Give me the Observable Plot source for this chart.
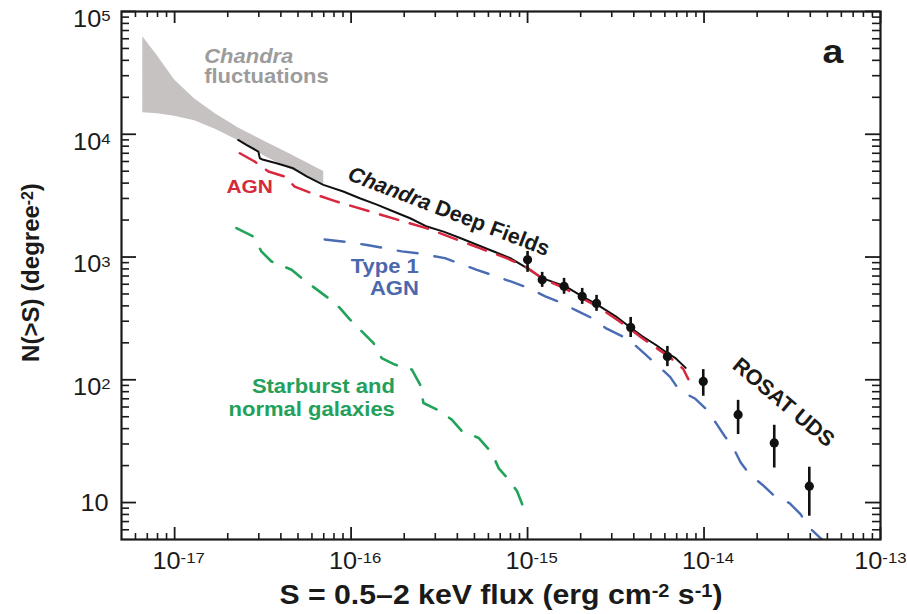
<!DOCTYPE html>
<html><head><meta charset="utf-8">
<script src="https://cdn.jsdelivr.net/npm/d3@7"></script>
<script src="https://cdn.jsdelivr.net/npm/@observablehq/plot@0.6"></script>
<style>
body{margin:0;background:#fff}
svg{font-family:"Liberation Sans",Arial,Helvetica,sans-serif}
</style>
</head><body><div id="chart"></div>
<script>
// ---------- data ----------
// Chandra fluctuations band
const bandFlux  = [6.6e-18, 8e-18, 1e-17, 1.3e-17, 1.7e-17, 2.3e-17, 3.2e-17, 4.5e-17, 7e-17];
const bandUpper = [62400, 43400, 27700, 19400, 14700, 11250, 8820, 6890, 4980];
const bandLower = [15000, 14700, 14000, 12900, 11000, 8850, 6670, 5210, 3950];

// Chandra Deep Fields (solid black)
const cdfFlux = [2.29e-17, 2.55e-17, 2.98e-17, 3.04e-17, 3.18e-17, 3.78e-17, 4.70e-17, 5.60e-17, 6.97e-17, 9.03e-17,
  1.12e-16, 1.40e-16, 1.74e-16, 2.16e-16, 2.69e-16, 3.34e-16, 4.15e-16, 5.16e-16, 6.43e-16, 7.98e-16,
  9.93e-16, 1.21e-15, 1.64e-15, 2.04e-15, 2.48e-15, 3.16e-15, 3.76e-15, 4.47e-15, 5.32e-15, 6.19e-15, 6.90e-15, 7.87e-15];
const cdfN = [8990, 8200, 7230, 6380, 6190, 5810, 5280, 4530, 3870, 3420,
  3010, 2670, 2350, 2070, 1770, 1610, 1430, 1260, 1110, 980,
  813, 673, 577, 478, 409, 329, 272, 226, 193, 165, 150, 125];

// AGN model (red dashed)
const agnFlux = [2.34e-17, 2.84e-17, 3.40e-17, 4.20e-17, 4.79e-17, 5.97e-17, 8.28e-17, 1.28e-16, 1.98e-16, 2.69e-16,
  3.81e-16, 5.40e-16, 7.66e-16, 9.93e-16, 1.21e-15, 1.63e-15, 2.04e-15, 2.48e-15, 3.14e-15, 3.77e-15,
  4.47e-15, 5.30e-15, 6.19e-15, 7.06e-15, 7.64e-15, 8.15e-15];
const agnN = [7000, 6000, 4970, 4530, 3750, 3310, 2830, 2350, 1950, 1710,
  1420, 1175, 975, 822, 670, 555, 460, 396, 316, 262,
  218, 184, 158, 136, 122, 101];

// Type 1 AGN model (blue dashed)
const type1Flux = [7.08e-17, 9.44e-17, 1.23e-16, 1.55e-16, 1.94e-16, 2.42e-16, 3.40e-16, 4.08e-16, 5.16e-16, 6.28e-16,
  8.17e-16, 1.007e-15, 1.26e-15, 1.51e-15, 1.91e-15, 2.32e-15, 2.79e-15, 3.44e-15, 4.07e-15, 4.65e-15,
  5.65e-15, 6.44e-15, 7.24e-15, 8.93e-15, 1.045e-14, 1.17e-14, 1.31e-14, 1.47e-14, 1.61e-14, 1.81e-14,
  2.15e-14, 2.51e-14, 3.05e-14, 3.52e-14, 3.92e-14, 4.70e-14];
const type1N = [1390, 1327, 1254, 1181, 1111, 1070, 980, 891, 785, 715,
  627, 561, 478, 431, 364, 318, 262, 226, 191, 161,
  125, 105, 82.2, 70, 56.5, 44.3, 34.7, 27.7, 21.3, 17.0,
  13.9, 11.3, 9.89, 8.05, 6.31, 4.94];

// Starburst and normal galaxies model (green dashed)
const galFlux = [2.24e-17, 2.79e-17, 3.10e-17, 3.54e-17, 4.60e-17, 5.24e-17, 6.24e-17, 7.43e-17, 8.65e-17, 9.86e-17,
  1.15e-16, 1.34e-16, 1.49e-16, 1.77e-16, 2.21e-16, 2.46e-16, 2.57e-16, 3.06e-16, 3.72e-16, 4.25e-16,
  5.28e-16, 6.28e-16, 6.85e-16, 7.81e-16, 8.71e-16, 9.5e-16];
const galN = [1718, 1471, 1111, 920, 788, 673, 558, 463, 384, 309,
  248, 199, 150, 133, 121, 91.4, 64.7, 57.2, 47.4, 38.1,
  33.6, 25.4, 19.1, 15.4, 12.4, 9.06];

// data points with error bars (Chandra / ROSAT UDS)
const ptFlux = [1.0e-15, 1.21e-15, 1.61e-15, 2.04e-15, 2.46e-15, 3.84e-15, 6.2e-15, 9.9e-15, 1.56e-14, 2.5e-14, 3.95e-14];
const ptN    = [950, 653, 577, 478, 419, 267, 155, 97, 52, 30.6, 13.6];
const ptLo   = [750, 566, 497, 411, 361, 221, 128, 73.4, 35.8, 19.1, 7.74];
const ptHi   = [1110, 750, 670, 555, 487, 322, 187, 121, 68, 42.6, 19.4];

// axes
const xTickValues = [1e-17, 1e-16, 1e-15, 1e-14, 1e-13];
const xTickLabels = ["10^{-17}", "10^{-16}", "10^{-15}", "10^{-14}", "10^{-13}"];
const yTickValues = [1e5, 1e4, 1e3, 1e2, 10];
const yTickLabels = ["10^{5}", "10^{4}", "10^{3}", "10^{2}", "10"];
const xDecades = [1e-18, 1e-17, 1e-16, 1e-15, 1e-14];
const yDecades = [1, 10, 100, 1000, 10000];
const mantissas = [2, 3, 4, 5, 6, 7, 8, 9];
const xTitle = "S = 0.5–2 keV flux (erg cm^{-2} s^{-1})";
const yTitle = "N(>S) (degree^{-2})";

// annotations
const labelText = ["<i>Chandra</i>", "fluctuations", "AGN", "<i>Chandra</i> Deep Fields", "Type 1", "AGN",
  "Starburst and", "normal galaxies", "ROSAT UDS", "a"];
const labelFlux = [1.47e-17, 1.47e-17, 2.66e-17, 3.58e-16, 2.42e-16, 2.42e-16, 1.77e-16, 1.77e-16, 2.82e-14, 5.37e-14];
const labelN    = [42900, 29400, 3750, 2350, 836, 553, 88.5, 57.5, 65.3, 47100];

// ---------- build ----------
const W = 907, H = 614, mT = 11, mB = 75, mL = 121, mR = 27;
const frameH = H - mT - mB, frameW = W - mL - mR;
const xDom = [5e-18, 1e-13], yDom = [5, 1e5];
const series = (fx, ny) => fx.map((f, i) => ({f, n: ny[i]}));
const band = bandFlux.map((f, i) => ({f, lo: bandLower[i], hi: bandUpper[i]}));
const pts = ptFlux.map((f, i) => ({f, n: ptN[i], lo: ptLo[i], hi: ptHi[i]}));
const minorX = xDecades.flatMap(d => mantissas.map(m => m * d)).filter(v => v > xDom[0] * 1.01 && v < xDom[1] * 0.99);
const minorY = yDecades.flatMap(d => mantissas.map(m => m * d)).filter(v => v > yDom[0] * 1.01 && v < yDom[1] * 0.99);
const INK = "#1a1a1a";
const nX = xTickValues.length;

function label(i, opts) {
  return Plot.text([i], {x: j => labelFlux[j], y: j => labelN[j], text: j => labelText[j],
    fontWeight: "bold", lineAnchor: "middle", ...opts});
}

const chart = Plot.plot({
  width: W, height: H,
  marginTop: mT, marginBottom: mB, marginLeft: mL, marginRight: mR,
  style: {background: "white", overflow: "visible", fontFamily: '"Liberation Sans", Arial, sans-serif'},
  x: {type: "log", domain: xDom, axis: null},
  y: {type: "log", domain: yDom, axis: null},
  marks: [
    Plot.areaY(band, {x: "f", y1: "lo", y2: "hi", fill: "#c6c2c2"}),
    Plot.line(series(galFlux, galN), {x: "f", y: "n", stroke: "#22a35a", strokeWidth: 2.6, strokeDasharray: "18,15", clip: true}),
    Plot.line(series(type1Flux, type1N), {x: "f", y: "n", stroke: "#4a6cb3", strokeWidth: 2.4, strokeDasharray: "20,17", clip: true}),
    Plot.line(series(cdfFlux, cdfN), {x: "f", y: "n", stroke: "#111", strokeWidth: 2}),
    Plot.line(series(agnFlux, agnN), {x: "f", y: "n", stroke: "#d8283f", strokeWidth: 2.5, strokeDasharray: "19,12"}),
    Plot.ruleX(pts, {x: "f", y1: "lo", y2: "hi", stroke: "#111", strokeWidth: 2.6}),
    Plot.dot(pts, {x: "f", y: "n", r: 4.6, fill: "#111", stroke: "none"}),
    // ticks (inward, all four sides)
    Plot.tickX(xTickValues, {x: d => d, insetTop: frameH - 12, stroke: INK, strokeWidth: 1.8}),
    Plot.tickX(xTickValues, {x: d => d, insetBottom: frameH - 12, stroke: INK, strokeWidth: 1.8}),
    Plot.tickX(minorX, {x: d => d, insetTop: frameH - 6, stroke: INK, strokeWidth: 1.6}),
    Plot.tickX(minorX, {x: d => d, insetBottom: frameH - 6, stroke: INK, strokeWidth: 1.6}),
    Plot.tickY(yTickValues, {y: d => d, insetRight: frameW - 15, stroke: INK, strokeWidth: 1.8}),
    Plot.tickY(yTickValues, {y: d => d, insetLeft: frameW - 15, stroke: INK, strokeWidth: 1.8}),
    Plot.tickY(minorY, {y: d => d, insetRight: frameW - 8, stroke: INK, strokeWidth: 1.6}),
    Plot.tickY(minorY, {y: d => d, insetLeft: frameW - 8, stroke: INK, strokeWidth: 1.6}),
    Plot.frame({stroke: INK, strokeWidth: 2.2}),
    // tick labels
    Plot.text(xTickValues.slice(0, nX - 1), {x: d => d, text: (d, i) => xTickLabels[i], frameAnchor: "bottom",
      lineAnchor: "middle", textAnchor: "middle", dy: 22, dx: 4, fontSize: 23, fill: INK}),
    Plot.text(xTickValues.slice(nX - 1), {x: d => d, text: (d, i) => xTickLabels[i + nX - 1], frameAnchor: "bottom",
      lineAnchor: "middle", textAnchor: "end", dy: 22, dx: 26, fontSize: 23, fill: INK}),
    Plot.text(yTickValues.slice(0, 4), {y: d => d, text: (d, i) => yTickLabels[i], frameAnchor: "left", dx: -11, dy: 8,
      lineAnchor: "middle", textAnchor: "end", fontSize: 23, fill: INK}),
    Plot.text(yTickValues.slice(4), {y: d => d, text: (d, i) => yTickLabels[i + 4], frameAnchor: "left", dx: -13, dy: 1,
      lineAnchor: "middle", textAnchor: "end", fontSize: 23, fill: INK}),
    // axis titles
    Plot.text([xTitle], {text: d => d, frameAnchor: "bottom", lineAnchor: "middle", textAnchor: "middle",
      dy: 56, fontSize: 27.5, fontWeight: "bold", fill: INK}),
    Plot.text([yTitle], {text: d => d, frameAnchor: "left", lineAnchor: "middle", textAnchor: "middle",
      dx: -90, dy: -3, rotate: -90, fontSize: 24, fontWeight: "bold", fill: INK}),
    // annotations
    label(0, {fill: "#9c9c9c", textAnchor: "start", fontSize: 20}),
    label(1, {fill: "#9c9c9c", textAnchor: "start", fontSize: 20}),
    label(2, {fill: "#d42a3c", fontSize: 19}),
    label(3, {fill: INK, fontSize: 21.5, rotate: 21}),
    label(4, {fill: "#4c68ad", textAnchor: "end", fontSize: 20}),
    label(5, {fill: "#4c68ad", textAnchor: "end", fontSize: 20}),
    label(6, {fill: "#23a05a", textAnchor: "end", fontSize: 20}),
    label(7, {fill: "#23a05a", textAnchor: "end", fontSize: 20}),
    label(8, {fill: INK, fontSize: 21.5, rotate: 40}),
    label(9, {fill: INK, fontSize: 34})
  ]
});
document.getElementById("chart").appendChild(chart);

// rich text: superscripts ^{..} and italics <i>..</i>
const SVGNS = "http://www.w3.org/2000/svg";
function richify(t, s) {
  const fs = parseFloat(getComputedStyle(t).fontSize) || 16;
  while (t.firstChild) t.removeChild(t.firstChild);
  const re = /\^\{([^}]*)\}|<i>(.*?)<\/i>|([^^<]+)/g;
  let m, cur = 0;
  const rise = 0.25 * fs;
  while ((m = re.exec(s))) {
    const ts = document.createElementNS(SVGNS, "tspan");
    let target = 0;
    if (m[1] !== undefined) {
      ts.textContent = m[1];
      ts.setAttribute("font-size", (fs * 0.66).toFixed(1));
      target = -rise;
    } else if (m[2] !== undefined) {
      ts.textContent = m[2];
      ts.setAttribute("font-style", "italic");
    } else {
      ts.textContent = m[3];
    }
    if (target !== cur) ts.setAttribute("dy", (target - cur).toFixed(2));
    cur = target;
    t.appendChild(ts);
  }
}
chart.querySelectorAll("text").forEach(t => {
  const s = t.textContent;
  if (/\^\{|<i>/.test(s)) richify(t, s);
  const tr = t.getAttribute("transform");
  if (tr && !/rotate/.test(tr)) t.setAttribute("transform", tr + " scale(1.1,1)");
});
</script>
</body></html>
